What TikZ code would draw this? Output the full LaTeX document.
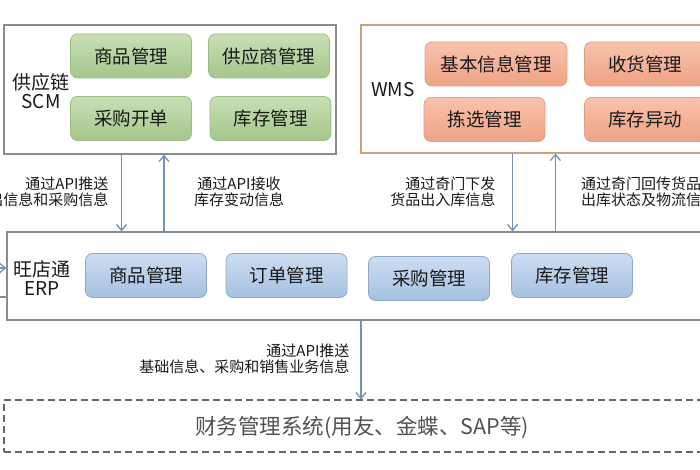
\documentclass[tikz,border=0pt]{standalone}
\usepackage{fontspec}
\setmainfont{Noto Sans CJK SC}
\newfontfamily\cjk{Noto Sans CJK SC}
\usetikzlibrary{arrows.meta}
\definecolor{outergray}{HTML}{8C8C8C}
\definecolor{wmsborder}{HTML}{C9A27E}
\definecolor{arrowblue}{HTML}{7392B4}
\definecolor{gtop}{HTML}{C9DFB5}
\definecolor{gbot}{HTML}{A4C68A}
\definecolor{gline}{HTML}{9DBC84}
\definecolor{otop}{HTML}{F8C3AC}
\definecolor{obot}{HTML}{EFA285}
\definecolor{oline}{HTML}{E29E82}
\definecolor{btop}{HTML}{CCDDF1}
\definecolor{bbot}{HTML}{A5C1E1}
\definecolor{bline}{HTML}{8EAACB}
\tikzset{
  outer/.style={draw=outergray, line width=1.2pt, minimum width=#1, inner sep=0pt},
  modbox/.style={rounded corners=7pt, minimum width=121pt, minimum height=44pt, inner sep=0pt,
    font=\fontsize{18.5}{21}\selectfont, text=black!90},
  greenbox/.style={modbox, draw=gline, top color=gtop, bottom color=gbot, line width=0.8pt},
  orangebox/.style={modbox, draw=oline, top color=otop, bottom color=obot, line width=0.8pt},
  bluebox/.style={modbox, draw=bline, top color=btop, bottom color=bbot, line width=0.8pt},
  syslabel/.style={font=\fontsize{19}{22}\selectfont, align=center, text=black!90},
  note/.style={font=\fontsize{15}{18}\selectfont, text=black!90},
  arr/.style={draw=arrowblue, line width=1.2pt, -{Straight Barb[length=6pt,width=10pt,line width=1.3pt]}},
}
\begin{document}
\begin{tikzpicture}[x=1pt,y=-1pt]
\useasboundingbox (0,0) rectangle (700,470);
\fill[white] (0,0) rectangle (700,470);

% Outer frames
\node[outer=332pt, minimum height=129pt] (scm) at (170,89.5) {};
\node[outer=360pt, minimum height=128pt, draw=wmsborder] (wms) at (541,89) {};
\node[outer=720pt, minimum height=88pt] (erp) at (367,276) {};
\node[draw=black!60, line width=1.1pt, dash pattern=on 7pt off 4pt, minimum width=720pt, minimum height=52pt, inner sep=0pt] (fin) at (364,426) {};

% SCM
\node[syslabel] (scmlab) at (41,91) {供应链\\[-3pt]SCM};
\node[greenbox] (g1) at (131,56) {商品管理};
\node[greenbox] (g2) at (269,56) {供应商管理};
\node[greenbox] (g3) at (131,118.5) {采购开单};
\node[greenbox] (g4) at (270.5,118.5) {库存管理};

% WMS
\node[syslabel] (wmslab) at (393,90) {WMS};
\node[orangebox, minimum width=142pt] (o1) at (496,64) {基本信息管理};
\node[orangebox] (o2) at (645,64) {收货管理};
\node[orangebox] (o3) at (484.5,119.5) {拣选管理};
\node[orangebox] (o4) at (645,119.5) {库存异动};

% ERP
\node[syslabel] (erplab) at (42,278) {旺店通\\[-3pt]ERP};
\node[bluebox] (b1) at (146,275.5) {商品管理};
\node[bluebox] (b2) at (286.5,275.5) {订单管理};
\node[bluebox] (b3) at (429,278.5) {采购管理};
\node[bluebox] (b4) at (572,275.5) {库存管理};

% Finance
\node[font=\fontsize{21.5}{24}\selectfont, text=black!68] (finlab) at (362,427) {财务管理系统(用友、金蝶、SAP等)};

% Arrow anchors
\coordinate (xa) at (121.5,0);
\coordinate (xb) at (164,0);
\coordinate (xc) at (512.5,0);
\coordinate (xd) at (555.5,0);
\coordinate (xe) at (361,0);
\coordinate (lin1) at (-20,268);
\coordinate (lin2) at (-20,297);

\draw[arr] (xa |- scm.south) -- (xa |- erp.north);
\draw[arr] (xb |- erp.north) -- (xb |- scm.south);
\draw[arr] (xc |- wms.south) -- (xc |- erp.north);
\draw[arr] (xd |- erp.north) -- (xd |- wms.south);
\draw[arr] (xe |- erp.south) -- (xe |- fin.north);
\draw[arr] (lin1) -- (lin1 -| erp.west);
\draw[draw=outergray, line width=1.2pt] (lin2) -- (lin2 -| erp.west);

% Notes
\node[note, anchor=east, align=right] (n1) at (112,192) {通过API推送\\[-2pt]出信息和采购信息};
\node[note, align=center] (n2) at (239,192) {通过API接收\\[-2pt]库存变动信息};
\node[note, anchor=east, align=right] (n3) at (499,192) {通过奇门下发\\[-2pt]货品出入库信息};
\node[note, anchor=west, align=left] (n4) at (577.5,192) {通过奇门回传货品\\[-2pt]出库状态及物流信息};
\node[note, anchor=east, align=right] (n5) at (353,359) {通过API推送\\[-2pt]基础信息、采购和销售业务信息};
\end{tikzpicture}
\end{document}
